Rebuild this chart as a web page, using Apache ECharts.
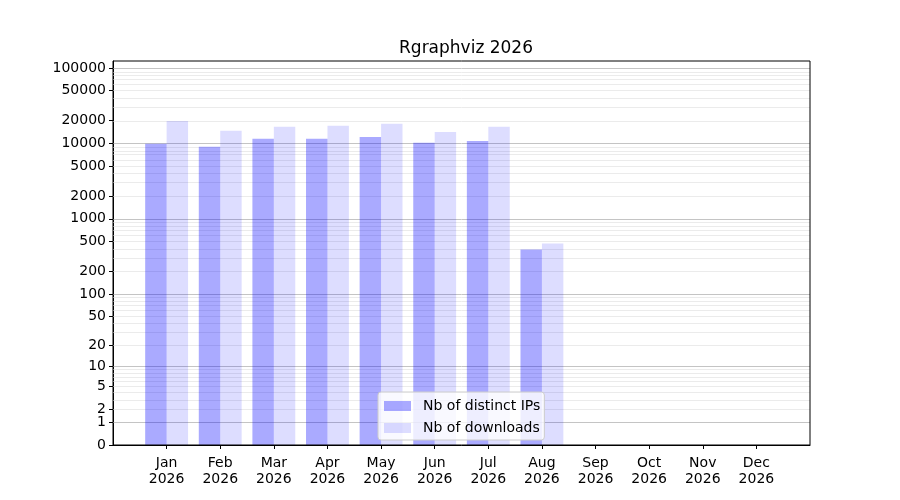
<!DOCTYPE html>
<html>
<head>
<meta charset="utf-8">
<script src="https://cdn.jsdelivr.net/npm/echarts@6/dist/echarts.min.js"></script>
<style>
  html, body { margin: 0; padding: 0; background: #fff; }
  #chart { width: 900px; height: 500px; }
</style>
</head>
<body>
<div id="chart"></div>
<script>
// values
const months = ['Jan', 'Feb', 'Mar', 'Apr', 'May', 'Jun', 'Jul', 'Aug', 'Sep', 'Oct', 'Nov', 'Dec'];
const year = '2026';
const distinctIPs = [9880, 9020, 11500, 11500, 12200, 10200, 10800, 391, 0, 0, 0, 0];
const downloads = [19900, 14700, 16600, 17100, 18200, 14200, 16600, 469, 0, 0, 0, 0];
const yTicks = [0, 1, 2, 5, 10, 20, 50, 100, 200, 500, 1000, 2000, 5000, 10000, 20000, 50000, 100000];
const decades = [1, 10, 100, 1000, 10000, 100000];
const yTop = 124000;

// y axis is log10(1 + x)
function fwd(v) { return Math.log10(1 + v); }
function inv(t) { return Math.round(Math.pow(10, t) - 1); }

// major lines at each decade, minor at 2..9 x decade
let minorLines = [];
decades.forEach(function (d) {
  for (let k = 2; k <= 9; k++) {
    if (d * k < yTop) minorLines.push(d * k);
  }
});

const cats = [''].concat(months.map(function (m) { return m + '\n' + year; })).concat(['']);
function pad(arr) { return [null].concat(arr.map(fwd)).concat([null]); }

const myChart = echarts.init(document.getElementById('chart'));

let gridLines = minorLines.map(function (v) {
  return { yAxis: fwd(v), lineStyle: { color: '#ebebeb', width: 1, type: 'solid' } };
}).concat(decades.map(function (v) {
  return { yAxis: fwd(v), lineStyle: { color: '#c4c4c4', width: 1, type: 'solid' } };
}));

const font = 'DejaVu Sans';

let option = {
  animation: false,
  textStyle: { fontFamily: font },
  title: {
    text: 'Rgraphviz 2026',
    left: 461,
    textAlign: 'center',
    top: 35,
    textStyle: { fontFamily: font, fontSize: 17, fontWeight: 'normal', color: '#000' },
  },
  grid: {
    left: 113,
    right: 90,
    top: 61,
    bottom: 55,
    show: true,
    borderColor: '#000',
    borderWidth: 1,
    z: 10,
  },
  legend: {
    orient: 'vertical',
    left: 378,
    top: 392,
    z: 8,
    itemWidth: 27,
    itemHeight: 10,
    itemGap: 8,
    icon: 'rect',
    padding: [7, 4, 5, 6],
    backgroundColor: 'rgba(255,255,255,0.8)',
    borderColor: '#cccccc',
    borderWidth: 1,
    borderRadius: 3,
    textStyle: { fontFamily: font, fontSize: 14, color: '#000', padding: [0, 0, 0, 7] },
    data: ['Nb of distinct IPs', 'Nb of downloads'],
  },
  xAxis: {
    type: 'category',
    data: cats,
    boundaryGap: false,
    axisLine: { lineStyle: { color: '#000' } },
    axisTick: {
      length: 4,
      lineStyle: { color: '#000' },
      interval: function (idx) { return idx > 0 && idx < cats.length - 1; },
    },
    axisLabel: {
      color: '#000',
      fontSize: 14,
      lineHeight: 16,
      margin: 10,
      interval: function (idx) { return idx > 0 && idx < cats.length - 1; },
    },
    splitLine: { show: false },
  },
  yAxis: {
    type: 'value',
    min: 0,
    max: fwd(yTop),
    axisLine: { show: true, lineStyle: { color: '#000' } },
    axisTick: {
      show: true,
      length: 4,
      lineStyle: { color: '#000' },
      customValues: yTicks.map(fwd),
    },
    axisLabel: {
      color: '#000',
      fontSize: 14,
      margin: 7,
      customValues: yTicks.map(fwd),
      formatter: function (t) { return String(inv(t)); },
    },
    splitLine: { show: false },
  },
  series: [
    {
      // helper series carrying the grid lines, kept under the bars
      name: 'grid',
      type: 'line',
      data: [],
      z: 1,
      markLine: {
        silent: true,
        z: 1,
        symbol: 'none',
        label: { show: false },
        animation: false,
        data: gridLines,
      },
    },
    {
      name: 'Nb of distinct IPs',
      type: 'bar',
      data: pad(distinctIPs),
      barWidth: '40%',
      barGap: '0%',
      z: 3,
      itemStyle: { color: 'rgba(0,0,255,0.333)' },
    },
    {
      name: 'Nb of downloads',
      type: 'bar',
      data: pad(downloads),
      barWidth: '40%',
      barGap: '0%',
      z: 3,
      itemStyle: { color: 'rgba(0,0,255,0.135)' },
    },
  ],
};

myChart.setOption(option);
window.addEventListener('resize', function () {
  myChart && myChart.resize();
});
</script>
</body>
</html>
